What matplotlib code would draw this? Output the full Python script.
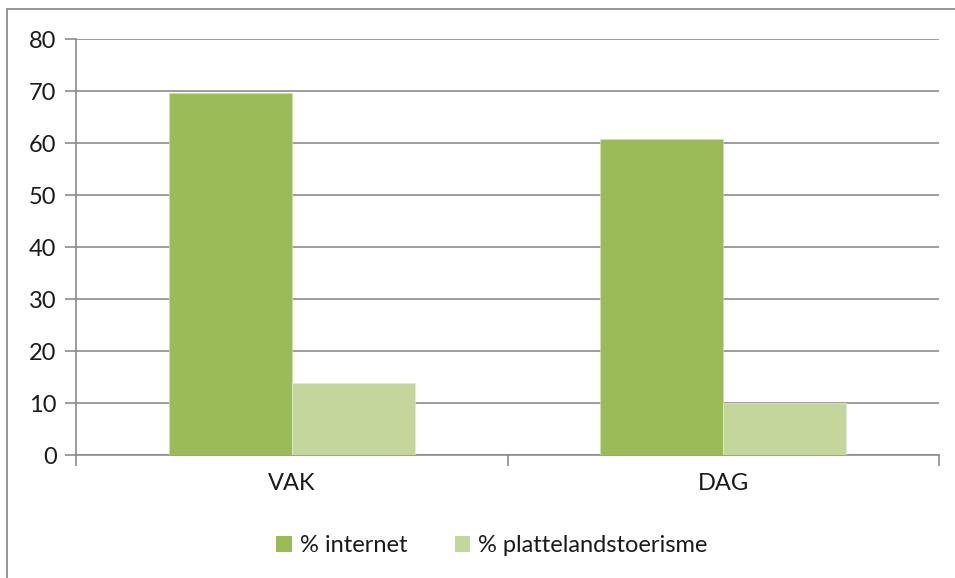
import matplotlib.pyplot as plt
import numpy as np
from matplotlib.patches import Patch, Rectangle

plt.rcParams['font.family'] = ['Lato', 'DejaVu Sans']

categories = ['VAK', 'DAG']
internet = [69.7, 60.8]
platteland = [13.9, 10.0]
series_labels = ['% internet', '% plattelandstoerisme']
colors = ['#9BBB59', '#C3D69B']
yticks = [0, 10, 20, 30, 40, 50, 60, 70, 80]

fig = plt.figure(figsize=(9.55, 5.78), dpi=100)
ax = fig.add_axes([76/955, 1-455/578, (939-76)/955, (455-39)/578])

# outer chart frame, cut off on the right and bottom
fig.patches.append(Rectangle((7/955, -0.1), 1.2, 1-9/578+0.1, transform=fig.transFigure,
                             fill=False, edgecolor='#8c8c8c', linewidth=1.3))

x = np.arange(len(categories))
w = 0.285
ax.bar(x - w/2, internet, w, color=colors[0], edgecolor='#cfdfb0', linewidth=0.5, zorder=3)
ax.bar(x + w/2, platteland, w, color=colors[1], edgecolor='#e3ecd0', linewidth=0.5, zorder=3)

ax.set_xlim(-0.5, 1.5)
ax.set_ylim(0, 80)
ax.set_yticks(yticks)
ax.yaxis.grid(True, color='#8c8c8c', linewidth=1.2, zorder=0)
ax.set_xticks(x)
ax.set_xticklabels(categories)
ax.set_xticks([-0.5, 0.5, 1.5], minor=True)
ax.tick_params(axis='x', which='major', length=0, pad=13, labelsize=17, colors='#1a1a1a')
ax.tick_params(axis='x', which='minor', length=8, width=1.2, color='#8c8c8c', direction='out')
ax.tick_params(axis='y', length=8, width=1.2, color='#8c8c8c', labelsize=17, pad=6, labelcolor='#1a1a1a')
for s in ['top', 'right']:
    ax.spines[s].set_visible(False)
for s in ['left', 'bottom']:
    ax.spines[s].set_color('#8c8c8c')
    ax.spines[s].set_linewidth(1.2)

handles = [Patch(facecolor=c, edgecolor='none') for c in colors]
fig.legend(handles, series_labels, loc='center', bbox_to_anchor=(492/955, 1-546/578),
           ncol=2, frameon=False, fontsize=17, handlelength=0.65, handleheight=0.65,
           handletextpad=0.35, columnspacing=2.0, labelcolor='#1a1a1a')

fig.savefig('out.png', dpi=100)
